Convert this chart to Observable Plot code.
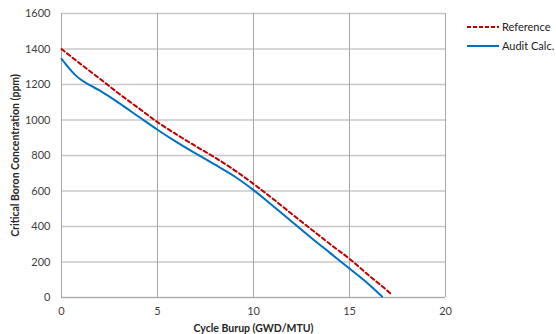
<!DOCTYPE html>
<html>
<head>
<meta charset="utf-8">
<script src="https://cdn.jsdelivr.net/npm/d3@7"></script>
<script src="https://cdn.jsdelivr.net/npm/@observablehq/plot@0.6"></script>
<style>
  body { margin: 0; background: #fff; }
  #wrap { position: relative; width: 556px; height: 334px; font-family: Lato, "Open Sans", sans-serif; }
  #wrap svg [aria-label="x-axis label"], #wrap svg [aria-label="y-axis label"] { font-weight: bold; font-size: 10.5px; fill: #262626; }
  .legend { position: absolute; left: 467px; top: 17px; font-size: 11px; color: #222; }
  .legend .item { display: flex; align-items: center; height: 19px; }
  .legend svg { margin-right: 3px; }
</style>
</head>
<body>
<div id="wrap"></div>
<script>
const xTicks = [0, 5, 10, 15, 20];
const yTicks = [0, 200, 400, 600, 800, 1000, 1200, 1400, 1600];

const refBurnup = [0, 1, 2, 3, 4, 5, 6, 7, 8, 9, 10, 11, 12, 13, 14, 15, 16, 17, 17.2];
const refBoron  = [1400, 1315, 1232, 1148, 1068, 988, 918, 852, 788, 718, 640, 557, 470, 385, 300, 218, 125, 35, 15];

const auditBurnup = [0, 0.25, 0.5, 0.75, 1, 1.5, 2, 3, 4, 5, 6, 7, 8, 9, 10, 11, 12, 13, 14, 15, 16, 16.7];
const auditBoron  = [1345, 1310, 1278, 1250, 1228, 1195, 1165, 1095, 1020, 945, 875, 810, 748, 683, 605, 517, 427, 337, 250, 163, 75, 5];

const seriesNames = ["Reference", "Audit Calc."];

const refData = refBurnup.map((x, i) => ({x, y: refBoron[i]}));
const auditData = auditBurnup.map((x, i) => ({x, y: auditBoron[i]}));

const chart = Plot.plot({
  width: 556,
  height: 334,
  marginLeft: 61,
  marginRight: 111,
  marginTop: 13,
  marginBottom: 37,
  style: { fontFamily: "Lato, 'Open Sans', sans-serif", fontSize: "11px", color: "#404040", background: "#fff" },
  x: { domain: [0, 20] },
  y: { domain: [0, 1600] },
  marks: [
    Plot.gridY(yTicks, { stroke: "#c8c8c8", strokeOpacity: 1, strokeWidth: 1.5 }),
    Plot.gridX(xTicks, { stroke: "#a6a6a6", strokeOpacity: 1 }),
    Plot.ruleY([0], { stroke: "#a6a6a6" }),
    Plot.ruleX([0], { stroke: "#a6a6a6" }),
    Plot.axisX(xTicks, { tickSize: 0, tickPadding: 10, tickFormat: d => String(d), label: "Cycle Burup (GWD/MTU)", labelAnchor: "center", labelArrow: "none", labelOffset: 34, fill: "#404040" }),
    Plot.axisY(yTicks, { tickSize: 0, tickPadding: 11, tickFormat: d => String(d), label: "Critical Boron Concentration (ppm)", labelAnchor: "center", labelOffset: 50, labelArrow: "none", fill: "#404040" }),
    Plot.line(refData, { x: "x", y: "y", stroke: "#c00000", strokeWidth: 2, strokeDasharray: "4,3", curve: "monotone-x" }),
    Plot.line(auditData, { x: "x", y: "y", stroke: "#0070c0", strokeWidth: 2, curve: "monotone-x" })
  ]
});
document.getElementById("wrap").appendChild(chart);

const legend = document.createElement("div");
legend.className = "legend";
legend.innerHTML = `
  <div class="item"><svg width="32" height="4"><line x1="0" y1="2" x2="32" y2="2" stroke="#c00000" stroke-width="2" stroke-dasharray="4,2"/></svg>${seriesNames[0]}</div>
  <div class="item"><svg width="32" height="4"><line x1="0" y1="2" x2="32" y2="2" stroke="#0070c0" stroke-width="2"/></svg>${seriesNames[1]}</div>`;
document.getElementById("wrap").appendChild(legend);
</script>
</body>
</html>
